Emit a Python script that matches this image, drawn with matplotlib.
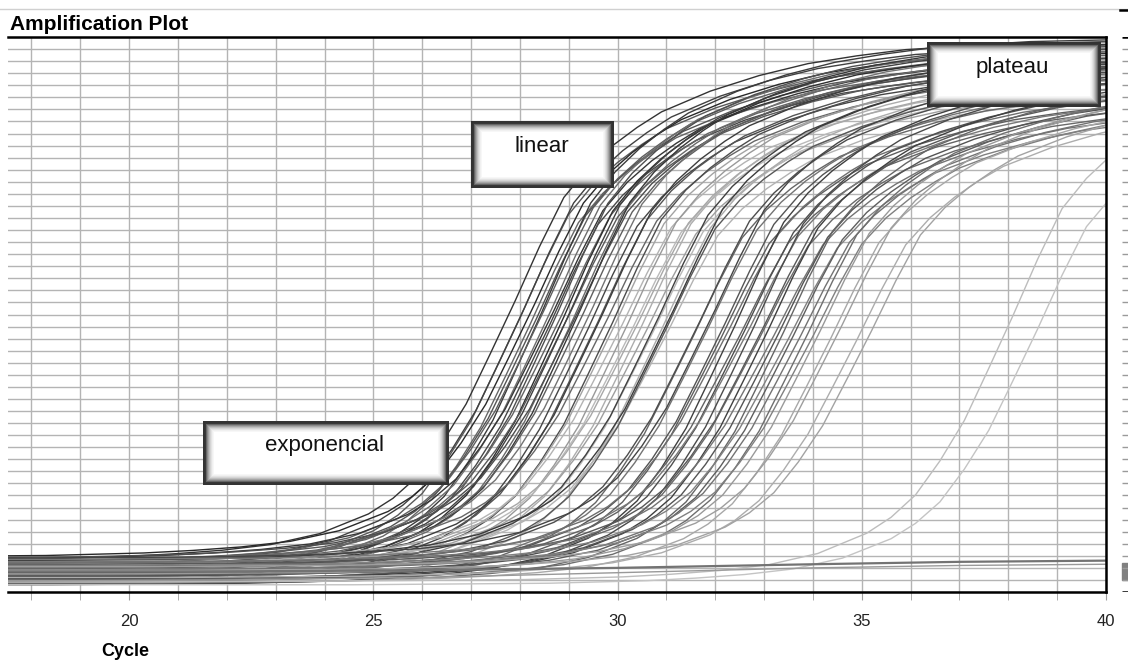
import numpy as np
import matplotlib
matplotlib.use("Agg")
import matplotlib.pyplot as plt
from matplotlib.patches import Rectangle
from matplotlib.lines import Line2D

W, H = 1128, 661

# shape of one amplification trace:
# cycle offset from its mid-point -> fraction of the way from baseline to plateau
profile_offset = [-22, -14, -10, -8, -7, -6, -5, -4, -3, -2.5, -2, -1.5, -1, -0.5, 0,
                  0.5, 1, 1.5, 2, 2.5, 3, 4, 5, 6, 7, 8, 10, 12, 14]
profile_frac = [0.0, 0.0, 0.003, 0.008, 0.013, 0.020, 0.031, 0.052, 0.090, 0.120, 0.162,
                0.226, 0.302, 0.400, 0.500, 0.605, 0.700, 0.757, 0.800, 0.835, 0.865,
                0.905, 0.935, 0.958, 0.973, 0.985, 0.996, 1.0, 1.0]

# early dark group
a_ct = [27.9, 28.0, 28.1, 28.2, 28.3, 28.35, 28.45, 28.5, 28.6, 28.65, 28.7, 28.8, 28.85,
        28.9, 29.0, 29.05, 29.1, 29.2, 29.25, 29.3, 29.4, 29.5, 29.6, 29.7, 29.8, 29.9]
a_top = [45.6, 44.2, 45.2, 43.4, 44.8, 43.9, 45.8, 44.5, 43.1, 45.0, 44.0, 45.4, 43.6,
         44.7, 43.3, 45.1, 44.3, 43.8, 45.5, 44.1, 43.0, 44.9, 43.5, 44.4, 42.8, 43.7]
a_base = [2.6, 1.2, 2.0, 0.8, 2.9, 1.6, 0.6, 2.3, 1.0, 1.9, 2.7, 1.4, 2.2,
          0.9, 2.5, 1.7, 1.1, 2.8, 1.5, 2.1, 0.7, 2.4, 1.3, 1.8, 2.6, 1.0]
a_gray = [0.20, 0.35, 0.25, 0.40, 0.16, 0.33, 0.23, 0.37, 0.28, 0.43, 0.21, 0.31, 0.39,
          0.18, 0.35, 0.25, 0.41, 0.30, 0.22, 0.37, 0.27, 0.45, 0.33, 0.24, 0.40, 0.30]

# light group in between
b_ct = [29.95, 30.1, 30.2, 30.3, 30.45, 30.5, 30.6, 30.75, 30.9, 31.05]
b_top = [43.0, 42.2, 43.4, 41.8, 42.6, 43.1, 41.5, 42.0, 42.8, 41.2]
b_base = [1.4, 2.2, 0.9, 1.8, 2.5, 1.1, 2.0, 1.5, 0.7, 2.3]
b_gray = [0.64, 0.70, 0.60, 0.73, 0.66, 0.68, 0.62, 0.72, 0.67, 0.70]

# later dark group
c_ct = [30.85, 31.0, 31.15, 31.55, 31.7, 31.85, 32.0, 32.1, 32.2, 32.3, 32.4, 32.5, 32.6,
        32.7, 32.8, 32.9, 33.0, 33.1, 33.2, 33.3, 33.4, 33.5, 33.6, 33.75, 33.9, 34.0]
c_top = [43.8, 42.5, 44.2, 41.6, 43.0, 42.2, 44.0, 40.8, 42.8, 41.4, 43.5, 40.5, 42.0,
         41.0, 43.2, 40.2, 41.8, 42.6, 40.0, 41.3, 42.4, 39.8, 41.1, 40.6, 41.9, 40.3]
c_base = [1.9, 1.2, 2.6, 0.8, 2.1, 1.5, 2.8, 1.0, 1.7, 2.4, 0.6, 2.0, 1.3,
          2.7, 0.9, 1.8, 2.3, 1.1, 2.5, 1.6, 0.7, 2.2, 1.4, 1.9, 1.0, 2.1]
c_gray = [0.25, 0.35, 0.23, 0.40, 0.30, 0.45, 0.27, 0.37, 0.33, 0.43, 0.25, 0.39, 0.31,
          0.47, 0.29, 0.41, 0.35, 0.25, 0.45, 0.33, 0.40, 0.50, 0.37, 0.45, 0.43, 0.50]

# light tail of the later group
d_ct = [34.15, 34.35, 34.6, 34.9, 35.2]
d_top = [41.8, 41.0, 42.2, 40.6, 41.5]
d_base = [1.5, 0.8, 2.1, 1.2, 1.8]
d_gray = [0.60, 0.66, 0.62, 0.68, 0.64]

# two very late faint traces
e_ct = [38.1, 38.6]
e_top = [45.0, 43.0]
e_base = [0.9, 0.6]
e_gray = [0.74, 0.77]

# traces that never take off
flat_cycles = [17.5, 22, 26, 30, 34, 37, 40]
flat_a = [1.7, 1.7, 1.8, 2.0, 2.3, 2.5, 2.6]
flat_b = [0.9, 1.0, 1.2, 1.6, 2.0, 2.2, 2.3]

x_major = [20, 25, 30, 35, 40]


def px(x):
    return x / W


def py(y):
    return 1 - y / H


def bevel_box(fig, x0, y0, x1, y1, label, tx, ty):
    # dark frame then a soft inner shadow fading to white
    levels = [0.2, 0.2, 0.22, 0.40, 0.54, 0.65, 0.75, 0.83, 0.89, 0.94, 0.97, 1.0]
    for i, g in enumerate(levels):
        fig.add_artist(Rectangle((px(x0 + i), py(y1 - i)),
                                 (x1 - x0 - 2 * i) / W, (y1 - y0 - 2 * i) / H,
                                 transform=fig.transFigure, facecolor=str(g),
                                 edgecolor="none", zorder=5 + i * 0.01))
    fig.text(px(tx), py(ty), label, ha="center", va="center", fontsize=16,
             family=["Liberation Sans", "DejaVu Sans"], color="#111111", zorder=10)


fig = plt.figure(figsize=(W / 100, H / 100), dpi=100)
ax = fig.add_axes([px(8), py(592), (1106 - 8) / W, (592 - 37) / H])

groups = [
    (a_ct, a_top, a_base, a_gray),
    (b_ct, b_top, b_base, b_gray),
    (c_ct, c_top, c_base, c_gray),
    (d_ct, d_top, d_base, d_gray),
    (e_ct, e_top, e_base, e_gray),
]
offs = np.array(profile_offset)
frac = np.array(profile_frac)
for cts, tops, bases, grays in groups:
    for ct, top, base, g in zip(cts, tops, bases, grays):
        ax.plot(offs + ct, base + (top - base) * frac, color=str(g), lw=1.0)

ax.plot(flat_cycles, flat_a, color="0.45", lw=1.6)
ax.plot(flat_cycles, flat_b, color="0.6", lw=1.0)

ax.set_xlim(17.52, 40)
ax.set_ylim(0, 46)
ax.set_xticks(x_major)
ax.set_xticks(range(18, 41), minor=True)
ax.set_yticks(range(0, 47))
ax.set_axisbelow(True)
ax.grid(True, which="both", axis="x", color="#b4b4b4", lw=1)
ax.grid(True, which="major", axis="y", color="#b4b4b4", lw=1)
ax.tick_params(axis="y", left=False, labelleft=False)
ax.tick_params(axis="x", which="both", direction="out", length=6, color="#a0a0a0",
               pad=10, labelsize=12, labelcolor="#222222")
for lab in ax.get_xticklabels():
    lab.set_family(["Liberation Sans", "DejaVu Sans"])
for side in ["top", "bottom", "right"]:
    ax.spines[side].set_color("black")
    ax.spines[side].set_linewidth(1.8)
ax.spines["left"].set_visible(False)

# strip of the neighbouring panel on the right
ax2 = fig.add_axes([px(1119), py(592), 9 / W, (592 - 37) / H])
ax2.set_xlim(0, 1)
ax2.set_ylim(0, 46)
ax2.hlines(range(1, 46), 0.3, 1, color="#9a9a9a", lw=1)
ax2.hlines([0, 46], 0.3, 1, color="black", lw=1.8)
ax2.axhspan(1.0, 2.4, xmin=0.3, color="#808080")
ax2.axis("off")

fig.add_artist(Line2D([0, 1], [py(9), py(9)], color="#d0d0d0", lw=1,
                      transform=fig.transFigure))
fig.add_artist(Line2D([px(1120), 1], [py(10), py(10)], color="black", lw=1.8,
                      transform=fig.transFigure))

narrow = ["Liberation Sans Narrow", "Liberation Sans", "DejaVu Sans"]
fig.text(px(10), py(25), "Amplification Plot", fontsize=15, fontweight="bold",
         family=narrow, va="center", ha="left")
fig.text(px(125), py(651), "Cycle", fontsize=13, fontweight="bold",
         family=narrow, va="center", ha="center")

bevel_box(fig, 203, 421, 449, 485, "exponencial", 325, 445)
bevel_box(fig, 471, 121, 614, 188, "linear", 542, 147)
bevel_box(fig, 927, 42, 1101, 107, "plateau", 1012, 67)

fig.savefig("out.png", dpi=100)
